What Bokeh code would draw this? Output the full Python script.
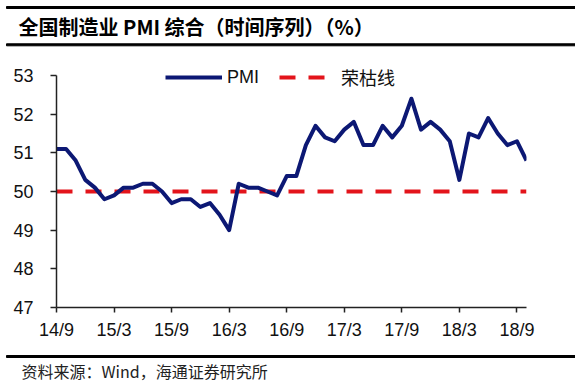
from bokeh.plotting import figure
from bokeh.layouts import column
from bokeh.models import Range1d, FixedTicker, Legend, LegendItem
from bokeh.core.properties import value
from bokeh.embed import file_html
from bokeh.resources import INLINE

# Monthly data points (Wind dates each value at month end, so e.g. the 14/8 value
# sits on the 14/9 tick of the date axis)
months = ["14/8", "14/9", "14/10", "14/11", "14/12",
          "15/1", "15/2", "15/3", "15/4", "15/5", "15/6", "15/7", "15/8", "15/9", "15/10", "15/11", "15/12",
          "16/1", "16/2", "16/3", "16/4", "16/5", "16/6", "16/7", "16/8", "16/9", "16/10", "16/11", "16/12",
          "17/1", "17/2", "17/3", "17/4", "17/5", "17/6", "17/7", "17/8", "17/9", "17/10", "17/11", "17/12",
          "18/1", "18/2", "18/3", "18/4", "18/5", "18/6", "18/7", "18/8", "18/9"]
pmi = [51.1, 51.1, 50.8, 50.3, 50.1,
       49.8, 49.9, 50.1, 50.1, 50.2, 50.2, 50.0, 49.7, 49.8, 49.8, 49.6, 49.7,
       49.4, 49.0, 50.2, 50.1, 50.1, 50.0, 49.9, 50.4, 50.4, 51.2, 51.7, 51.4,
       51.3, 51.6, 51.8, 51.2, 51.2, 51.7, 51.4, 51.7, 52.4, 51.6, 51.8, 51.6,
       51.3, 50.3, 51.5, 51.4, 51.9, 51.5, 51.2, 51.3, 50.8]
boom_bust = 50
tick_labels = ["14/9", "15/3", "15/9", "16/3", "16/9", "17/3", "17/9", "18/3", "18/9"]
y_ticks = [47, 48, 49, 50, 51, 52, 53]

title_text = "全国制造业 PMI 综合（时间序列）（%）"
source_text = "资料来源：Wind，海通证券研究所"

x = list(range(len(months)))
# month-end values sit on the next month's tick
tick_pos = [0] + [months.index(lbl) - 1 for lbl in tick_labels[1:]]

LAT = "Liberation Sans, Noto Sans CJK SC"
CJK = "Noto Sans CJK SC"
W = 575


def banner(height):
    f = figure(width=W, height=height, output_backend="svg", toolbar_location=None,
               x_range=Range1d(0, W), y_range=Range1d(height, 0),
               x_axis_type=None, y_axis_type=None, min_border=0, frame_align=False)
    f.outline_line_color = None
    f.grid.grid_line_color = None
    f.background_fill_color = "white"
    f.border_fill_color = "white"
    return f


# ---- header ----
head = banner(48)
head.quad(left=[6, 6], right=[W, W], top=[6, 43.3], bottom=[8, 45.3], color="black")
head.text(x=[18], y=[26], text=[title_text], text_font=value(CJK), text_font_size="20px",
          text_font_style="bold", text_color="black", text_baseline="middle")

# ---- main chart ----
px_per_unit = 232 / (y_ticks[-1] - y_ticks[0])
p = figure(width=W, height=302, output_backend="svg", toolbar_location=None,
           x_range=Range1d(x[0], x[-1]),
           y_range=Range1d(y_ticks[0], y_ticks[-1] + 8 / px_per_unit),
           min_border_left=56, min_border_right=49, min_border_top=19, min_border_bottom=43,
           frame_align=False)
p.outline_line_color = None
p.grid.grid_line_color = None
p.background_fill_color = "white"
p.border_fill_color = "white"

red = p.line([x[0], x[-1]], [boom_bust, boom_bust], line_color="#e3141b", line_width=4,
             line_dash="16 13")
blue = p.line(x, pmi, line_color="#0c1874", line_width=4, line_join="round")

for ax in (p.xaxis[0], p.yaxis[0]):
    ax.axis_line_color = "#222222"
    ax.axis_line_width = 1.5
    ax.major_tick_line_color = "#222222"
    ax.major_tick_line_width = 1.5
    ax.major_tick_in = 0
    ax.minor_tick_line_color = None
    ax.major_label_text_font = LAT
    ax.major_label_text_font_size = "18px"
    ax.major_label_text_color = "#111111"

p.yaxis.ticker = FixedTicker(ticks=y_ticks)
p.yaxis.bounds = (y_ticks[0], y_ticks[-1])
p.yaxis.major_tick_out = 6
p.yaxis.major_label_standoff = 17

p.xaxis.ticker = FixedTicker(ticks=tick_pos)
p.xaxis.major_label_overrides = {pos: lbl for pos, lbl in zip(tick_pos, tick_labels)}
p.xaxis.major_tick_out = 5
p.xaxis.major_label_standoff = 7

legend = Legend(items=[LegendItem(label="PMI", renderers=[blue]),
                       LegendItem(label="荣枯线", renderers=[red])],
                orientation="horizontal", location=(109, 217),
                glyph_width=57, glyph_height=20, label_height=20, label_standoff=5,
                spacing=20, padding=0, margin=0,
                label_text_font=LAT, label_text_font_size="18px", label_text_color="#111111",
                background_fill_alpha=0, border_line_color=None)
p.add_layout(legend)

# ---- footer ----
foot = banner(31)
foot.quad(left=[6], right=[W], top=[5], bottom=[7], color="black")
foot.text(x=[21], y=[20], text=[source_text], text_font=value(CJK), text_font_size="16px",
          text_color="#222222", text_baseline="middle")

page = column(head, p, foot, spacing=0)
open("out.html", "w").write(file_html(page, INLINE))
